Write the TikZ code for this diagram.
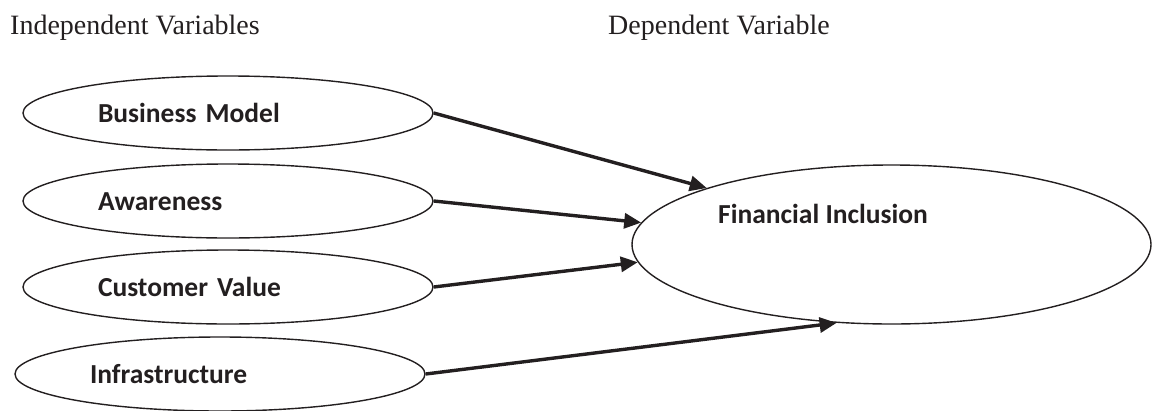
\documentclass[tikz,border=0pt]{standalone}
\usepackage{fontspec}
\setmainfont{Liberation Serif}
\newfontfamily\boxfont{Carlito}
\usetikzlibrary{arrows.meta,shapes.geometric}
\definecolor{ink}{RGB}{35,31,32}
\tikzset{
  varbox/.style={ellipse, draw=ink, line width=1.4pt, minimum width=410pt, minimum height=74pt,
    inner sep=0pt, text width=260pt, align=left, text height=19pt, text depth=0pt,
    font=\boxfont\bfseries\fontsize{27.5}{30}\selectfont, text=ink},
  effect/.style={-{Triangle[length=17pt,width=15pt]}, draw=ink, line width=3.4pt},
  heading/.style={anchor=base west, inner sep=0pt, font=\fontsize{28}{32}\selectfont, text=ink}
}
\begin{document}
\begin{tikzpicture}[x=1pt, y=-1pt]
    \useasboundingbox (0,0) rectangle (1153,410);

    % Headings
    \node[heading] (indep) at (10,34) {Independent Variables};
    \node[heading] (dep) at (608,34) {Dependent Variable};

    % Independent variables
    \node[varbox] (bm) at (228,113) {Business Model};
    \node[varbox] (aw) at (228,201) {Awareness};
    \node[varbox] (cv) at (228,287) {Customer Value};
    \node[varbox] (in) at (220,374) {Infrastructure};

    % Dependent variable
    \node[ellipse, draw=ink, line width=1.4pt, minimum width=519pt, minimum height=159pt] (fi) at (891.5,244.5) {};
    \node[anchor=base west, inner sep=0pt, font=\boxfont\bfseries\fontsize{27.5}{30}\selectfont, text=ink] (fitext) at (718,223) {Financial Inclusion};

    % Effects
    \draw[effect] (bm.east) -- (fi.163.6);
    \draw[effect] (aw.east) -- (fi.175.8);
    \draw[effect] (cv.east) -- (fi.184.9);
    \draw[effect] (in.east) -- (fi.235.7);
  \end{tikzpicture}
\end{document}
